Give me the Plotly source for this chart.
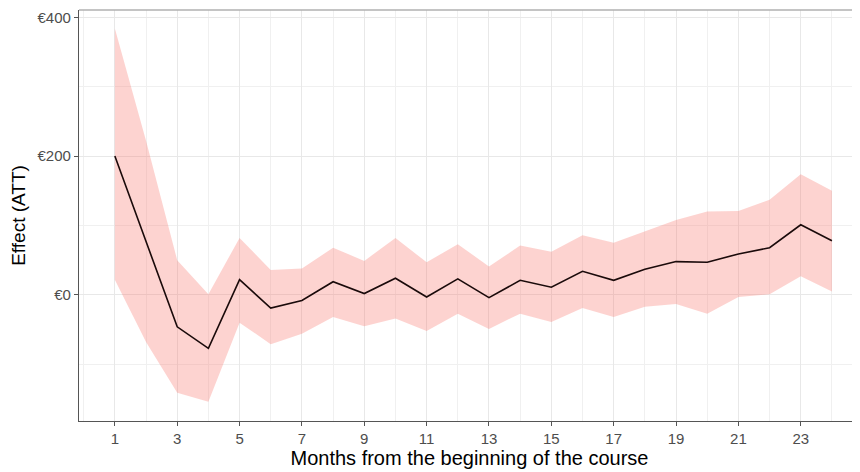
import plotly.graph_objects as go

months = list(range(1, 25))
att = [200, 78, -46, -77, 22, -19, -8, 19, 2, 24, -3, 23, -4, 21, 11, 34, 21, 37, 48, 47, 59, 68, 101, 78]
upper = [384, 222, 50, 1, 82, 36, 38, 68, 49, 82, 47, 73, 41, 71, 62, 86, 75, 92, 108, 120, 121, 137, 174, 150]
lower = [22, -68, -141, -154, -40, -71, -56, -32, -45, -34, -52, -27, -49, -27, -39, -19, -32, -17, -13, -27, -3, 1, 27, 5]

x_ticks = list(range(1, 24, 2))
x_minor = list(range(0, 26, 2))
y_ticks = [0, 200, 400]
y_tick_labels = ["€0", "€200", "€400"]
y_minor = [-100, 100, 300]

fig = go.Figure()
fig.add_trace(go.Scatter(x=months, y=upper, mode="lines", line=dict(width=0),
                         showlegend=False, hoverinfo="skip"))
fig.add_trace(go.Scatter(x=months, y=lower, mode="lines", line=dict(width=0),
                         fill="tonexty", fillcolor="rgba(248,118,109,0.32)",
                         showlegend=False, hoverinfo="skip"))
fig.add_hline(y=0, line=dict(color="black", width=1.6))
fig.add_trace(go.Scatter(x=months, y=att, mode="lines",
                         line=dict(color="#1a0a0a", width=1.6), showlegend=False))

# page body has an 8px default margin; size the figure to fit the 860x472 window
fig.update_layout(
    width=852, height=464,
    margin=dict(l=71, r=0, t=2, b=51, autoexpand=False),
    paper_bgcolor="white", plot_bgcolor="white",
    font=dict(family="Liberation Sans, Arial, sans-serif"),
    shapes=[dict(type="line", xref="paper", yref="paper", x0=0, x1=1, y0=1, y1=1,
                 line=dict(color="#B0B0B0", width=1.5))],
)
fig.update_xaxes(
    automargin=False,
    range=[-0.15, 24.9], tickvals=x_ticks, ticktext=[str(v) for v in x_ticks],
    showgrid=True, gridcolor="#E8E8E8", gridwidth=1.2,
    minor=dict(tickvals=x_minor, showgrid=True, gridcolor="#F0F0F0", gridwidth=0.8, ticks=""),
    showline=True, linecolor="#555555", linewidth=1.2,
    ticks="outside", ticklen=4, tickcolor="#555555", tickwidth=1.2,
    tickfont=dict(size=15, color="#4D4D4D"),
    title=dict(text="Months from the beginning of the course", font=dict(size=20, color="black"), standoff=4),
    zeroline=False,
)
fig.update_yaxes(
    automargin=False,
    range=[-181.7, 410.5], tickvals=y_ticks, ticktext=y_tick_labels,
    showgrid=True, gridcolor="#E8E8E8", gridwidth=1.2,
    minor=dict(tickvals=y_minor, showgrid=True, gridcolor="#F0F0F0", gridwidth=0.8, ticks=""),
    showline=True, linecolor="#555555", linewidth=1.2,
    ticks="outside", ticklen=4, tickcolor="#555555", tickwidth=1.2,
    tickfont=dict(size=15, color="#4D4D4D"),
    title=dict(text="Effect (ATT)", font=dict(size=19, color="black"), standoff=8),
    zeroline=False,
)

fig.write_html("out.html")
